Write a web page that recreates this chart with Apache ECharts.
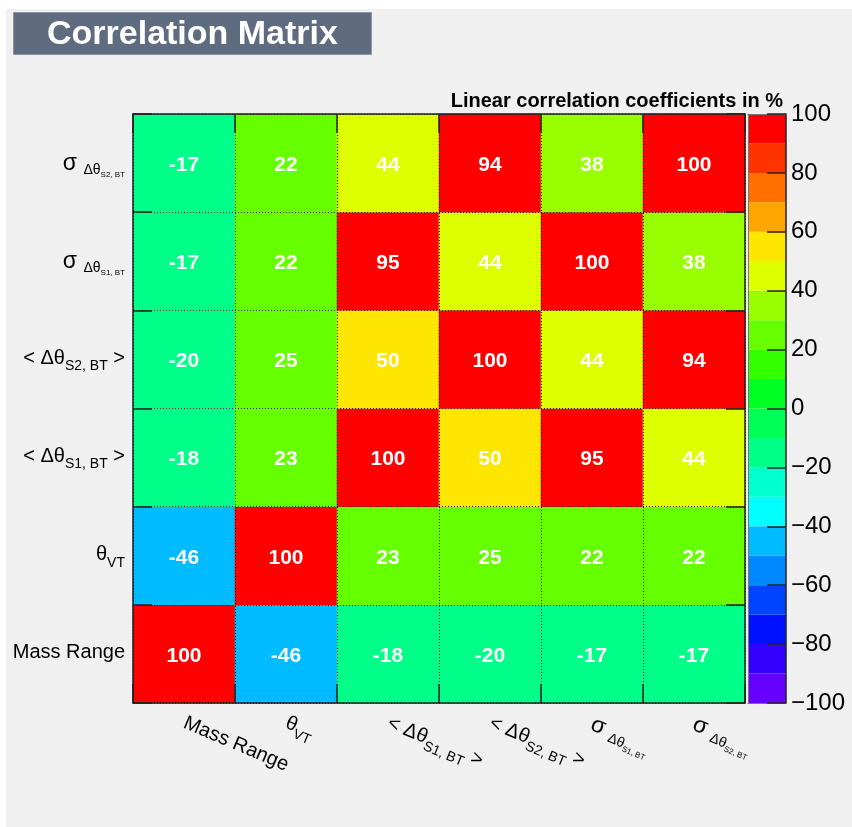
<!DOCTYPE html>
<html>
<head>
<meta charset="utf-8">
<title>Correlation Matrix</title>
<script src="https://cdn.jsdelivr.net/npm/echarts@6.0.0/dist/echarts.min.js"></script>
<style>
  html, body { margin: 0; padding: 0; background: #ffffff; }
  #chart { width: 852px; height: 827px; }
</style>
</head>
<body>
<div id="chart"></div>
<script>
// Variables of the fit, in axis order (bottom-to-top / left-to-right)
const varNames = ['Mass Range', 'θ_VT', '<Δθ_S1,BT>', '<Δθ_S2,BT>', 'σ_Δθ_S1,BT', 'σ_Δθ_S2,BT'];
// Axis labels with sub- and sub-subscripts (rich text markup)
const varLabels = [
  '{m|Mass Range}',
  '{m|θ}{s|VT}',
  '{m|< Δθ}{s|S1, BT}{m| >}',
  '{m|< Δθ}{s|S2, BT}{m| >}',
  '{sg|σ }{s|Δθ}{ss|S1, BT}',
  '{sg|σ }{s|Δθ}{ss|S2, BT}'
];

// Linear correlation coefficients in %; row i = y variable, column j = x variable
const corrRow0 = [100, -46, -18, -20, -17, -17];
const corrRow1 = [-46, 100, 23, 25, 22, 22];
const corrRow2 = [-18, 23, 100, 50, 95, 44];
const corrRow3 = [-20, 25, 50, 100, 44, 94];
const corrRow4 = [-17, 22, 95, 44, 100, 38];
const corrRow5 = [-17, 22, 44, 94, 38, 100];
const corrRows = [corrRow0, corrRow1, corrRow2, corrRow3, corrRow4, corrRow5];

// Colour palette: 20 bands of 10 % from -100 to 100
const paletteEdges = [-100, -90, -80, -70, -60, -50, -40, -30, -20, -10, 0,
                      10, 20, 30, 40, 50, 60, 70, 80, 90, 100];
const paletteColors = [
  '#6600ff', '#3300ff', '#0011ff', '#0044ff', '#0088ff',
  '#00bbff', '#00ffff', '#00ffcc', '#00ff88', '#00ff55',
  '#00ff22', '#33ff00', '#66ff00', '#99ff00', '#ddff00',
  '#ffe600', '#ffa500', '#ff7000', '#ff3300', '#ff0000'
];
// Colour-bar tick labels
const colorbarTicks = [-100, -80, -60, -40, -20, 0, 20, 40, 60, 80, 100];

const FONT = '"Liberation Sans", Arial, Helvetica, sans-serif';

// heatmap cells [x, y, value]
const cells = [];
corrRows.forEach((row, i) => row.forEach((v, j) => cells.push([j, i, v])));

// colour bar bands [low, high, index]
const bands = paletteColors.map((c, k) => [paletteEdges[k], paletteEdges[k + 1], k]);

const pieces = paletteColors.map((c, k) => {
  const p = { gte: paletteEdges[k], color: c };
  if (k === paletteColors.length - 1) p.lte = paletteEdges[k + 1];
  else p.lt = paletteEdges[k + 1];
  return p;
});

const richLabel = {
  m: { fontSize: 20, lineHeight: 22, verticalAlign: 'top', color: '#000', fontFamily: FONT },
  sg: { fontSize: 23, lineHeight: 22, verticalAlign: 'top', color: '#000', fontFamily: FONT },
  s: { fontSize: 14, lineHeight: 14, padding: [11, 0, 0, 0], verticalAlign: 'top', color: '#000', fontFamily: FONT },
  ss: { fontSize: 8, lineHeight: 9, padding: [19, 0, 0, 0], verticalAlign: 'top', color: '#000', fontFamily: FONT }
};

const frameLine = { show: true, lineStyle: { color: '#222', width: 1.5 } };
const innerTick = { show: true, inside: true, length: 19, interval: 0, lineStyle: { color: '#222', width: 1.5 } };
const dottedGrid = { show: true, interval: 0, lineStyle: { color: '#111', width: 1, type: [1, 2] } };

const chart = echarts.init(document.getElementById('chart'), null, { renderer: 'canvas' });

chart.setOption({
  animation: false,
  backgroundColor: 'transparent',
  graphic: [{
    type: 'rect', left: 6, top: 9, z: -100,
    shape: { width: 846, height: 818 },
    style: { fill: '#f0f0f0' }
  }],
  title: [{
    text: 'Correlation Matrix',
    left: 13, top: 12,
    padding: [5, 34, 2, 34],
    backgroundColor: '#5f6b7e',
    borderColor: '#8b94a2',
    borderWidth: 1,
    textStyle: { fontFamily: FONT, fontSize: 34, fontWeight: 'bold', color: '#ffffff', lineHeight: 36 }
  }, {
    text: 'Linear correlation coefficients in %',
    right: 69, top: 91, padding: 0,
    textStyle: { fontFamily: FONT, fontSize: 20, fontWeight: 'bold', color: '#000' }
  }],
  grid: [
    { left: 133, top: 114, width: 612, height: 589, show: false },
    { left: 748, top: 114, width: 38, height: 589, show: false }
  ],
  xAxis: [
    {
      gridIndex: 0, type: 'category', data: varNames, position: 'bottom', z: 10,
      axisLine: frameLine, axisTick: innerTick, splitLine: dottedGrid,
      axisLabel: {
        interval: 0, rotate: -23, margin: 20,
        formatter: (v, i) => varLabels[i], rich: richLabel
      }
    },
    {
      gridIndex: 0, type: 'category', data: varNames, position: 'top', z: 10,
      axisLine: frameLine, axisTick: innerTick, axisLabel: { show: false }, splitLine: { show: false }
    },
    {
      gridIndex: 1, type: 'value', min: 0, max: 1, position: 'bottom', z: 10,
      axisLine: { show: true, onZero: false, lineStyle: { color: '#777', width: 1 } },
      axisTick: { show: false }, axisLabel: { show: false }, splitLine: { show: false }
    },
    {
      gridIndex: 1, type: 'value', min: 0, max: 1, position: 'top', z: 10,
      axisLine: { show: true, onZero: false, lineStyle: { color: '#777', width: 1 } },
      axisTick: { show: false }, axisLabel: { show: false }, splitLine: { show: false }
    }
  ],
  yAxis: [
    {
      gridIndex: 0, type: 'category', data: varNames, position: 'left', z: 10,
      axisLine: frameLine, axisTick: innerTick, splitLine: dottedGrid,
      axisLabel: {
        interval: 0, margin: 8, align: 'right',
        formatter: (v, i) => varLabels[i], rich: richLabel
      }
    },
    {
      gridIndex: 0, type: 'category', data: varNames, position: 'right', z: 10,
      axisLine: frameLine, axisTick: innerTick, axisLabel: { show: false }, splitLine: { show: false }
    },
    {
      gridIndex: 1, type: 'value', min: -100, max: 100, interval: 20, position: 'right', z: 10,
      axisLine: { show: true, onZero: false, lineStyle: { color: '#222', width: 1.5 } },
      axisTick: { show: true, inside: true, length: 19, lineStyle: { color: '#222', width: 1.5 } },
      splitLine: { show: false },
      axisLabel: {
        margin: 5, fontFamily: FONT, fontSize: 24, color: '#000',
        padding: [6, 0, 0, 0],
        customValues: colorbarTicks,
        formatter: v => String(v).replace('-', '\u2212')
      }
    },
    {
      gridIndex: 1, type: 'value', min: -100, max: 100, position: 'left', z: 10,
      axisLine: { show: true, onZero: false, lineStyle: { color: '#777', width: 1 } },
      axisTick: { show: false }, axisLabel: { show: false }, splitLine: { show: false }
    }
  ],
  visualMap: {
    type: 'piecewise', show: false, seriesIndex: 0, dimension: 2, pieces: pieces
  },
  series: [
    {
      type: 'heatmap',
      xAxisIndex: 0, yAxisIndex: 0,
      data: cells,
      z: 2,
      itemStyle: { borderWidth: 0 },
      label: {
        show: true, color: '#ffffff', fontFamily: FONT, fontSize: 21, fontWeight: 'bold',
        offset: [0, 2],
        formatter: p => String(p.value[2])
      },
      emphasis: { disabled: true }
    },
    {
      type: 'custom',
      xAxisIndex: 2, yAxisIndex: 2,
      data: bands,
      encode: { y: [0, 1] },
      silent: true,
      renderItem: (params, api) => {
        const p0 = api.coord([0, api.value(0)]);
        const p1 = api.coord([1, api.value(1)]);
        return {
          type: 'rect',
          shape: { x: p0[0], y: p1[1], width: p1[0] - p0[0], height: p0[1] - p1[1] },
          style: { fill: paletteColors[api.value(2)] }
        };
      }
    }
  ]
});
</script>
</body>
</html>
